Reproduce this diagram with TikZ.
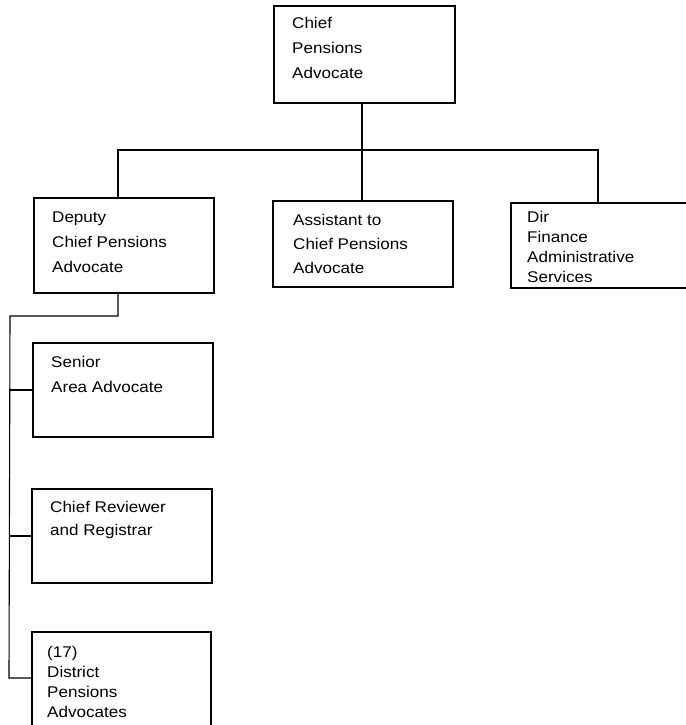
\documentclass[tikz,border=0pt]{standalone}
\usepackage{fontspec}
\setmainfont{Liberation Sans}[FakeStretch=1.1]
\begin{document}
\begin{tikzpicture}[x=1pt,y=-1pt,
  box/.style={draw,line width=1.1pt},
  thickline/.style={line width=2.3pt},
  thinline/.style={line width=1.1pt},
  lbl/.style={anchor=base west,align=left,inner sep=0pt,font=\fontsize{15.5}{25}\selectfont},
  lbls/.style={anchor=base west,align=left,inner sep=0pt,font=\fontsize{15.5}{20}\selectfont}]
\useasboundingbox (0,0) rectangle (685,725);
% boxes
\node[box,minimum width=181pt,minimum height=97pt] (top) at (364.5,54.5) {};
\node[box,minimum width=180pt,minimum height=95pt] (deputy) at (124,245.5) {};
\node[box,minimum width=180pt,minimum height=86pt] (assist) at (363,244) {};
\node[box,minimum width=184pt,minimum height=85pt] (dir) at (603,245.5) {};
\node[box,minimum width=180pt,minimum height=94pt] (senior) at (123,390) {};
\node[box,minimum width=180pt,minimum height=94pt] (reviewer) at (122,536) {};
\node[box,minimum width=179pt,minimum height=100pt] (district) at (121.5,682) {};
% texts (anchored at the baseline of the last line)
\node[lbl] (ttop) at (292,78) {Chief\\Pensions\\Advocate};
\node[lbl] (tdeputy) at (52,272) {Deputy\\Chief Pensions\\Advocate};
\node[lbl,font=\fontsize{15.5}{24}\selectfont] (tassist) at (293,273) {Assistant to\\Chief Pensions\\Advocate};
\node[lbls] (tdir) at (527,282) {Dir\\Finance\\Administrative\\Services};
\node[lbl] (tsenior) at (51,392) {Senior\\Area Advocate};
\node[lbl,font=\fontsize{15.5}{23}\selectfont] (treviewer) at (50,535) {Chief Reviewer\\and Registrar};
\node[lbls] (tdistrict) at (47,717) {(17)\\District\\Pensions\\Advocates};
% connectors
\coordinate (bl) at (118,150);
\coordinate (br) at (598,150);
\coordinate (bm) at (362,150);
\draw[thickline] (bm |- top.south) -- (bm |- assist.north);
\draw[thickline] (bl |- deputy.north) -- (bl) -- (br) -- (br |- dir.north);
\coordinate (dd) at (118,316);
\coordinate (sp) at (10,316);
\coordinate (spe) at (9,678);
\draw[thinline] (dd |- deputy.south) -- (dd) -- (sp) -- (spe) -- (spe -| district.west);
\draw[thinline] (sp |- senior.west) -- (senior.west);
\draw[thinline] (sp |- reviewer.west) -- (reviewer.west);
\end{tikzpicture}
\end{document}
